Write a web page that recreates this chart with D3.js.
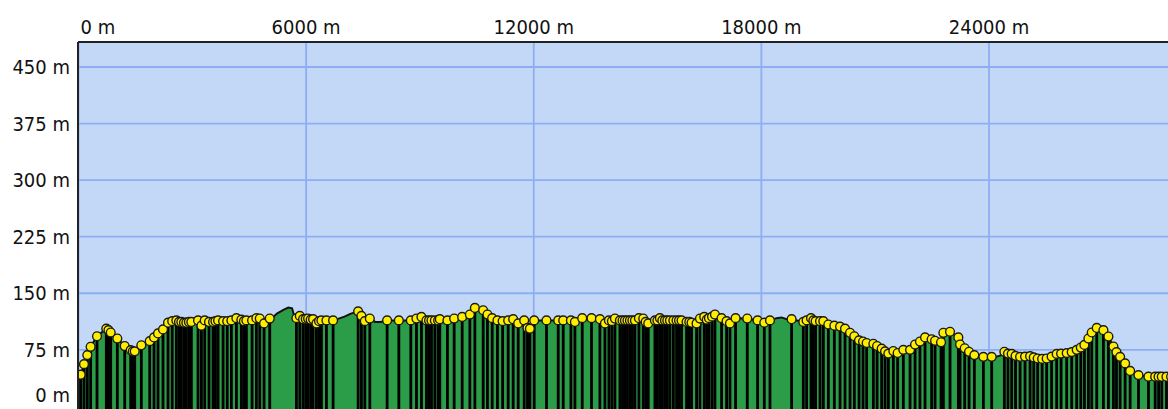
<!DOCTYPE html>
<html>
<head>
<meta charset="utf-8">
<script src="https://cdn.jsdelivr.net/npm/d3@7"></script>
<style>
  html, body { margin: 0; padding: 0; background: #fff; overflow: hidden; }
  svg { display: block; }
  text { font-family: "DejaVu Sans Condensed", "DejaVu Sans", sans-serif; font-size: 20px; fill: #111; }
</style>
</head>
<body>
<svg id="chart" width="1168" height="409"></svg>
<script>
// ---- data ----
const distance = [0,58,145,232,320,488,733,790,849,1023,1218,1376,1430,1482,1656,1877,1991,2096,2228,2360,2470,2579,2650,2711,2780,2843,2910,2975,3151,3240,3327,3440,3547,3610,3679,3811,3920,4030,4162,4293,4360,4425,4575,4689,4778,4891,5041,5100,5230,5400,5530,5630,5700,5744,5833,5920,5990,6052,6120,6184,6272,6340,6403,6535,6711,6840,7010,7180,7371,7458,7547,7679,7820,7960,8135,8444,8760,8908,9040,9172,9240,9304,9393,9480,9524,9725,9902,10113,10316,10448,10667,10780,10904,11044,11180,11326,11458,11590,11748,11835,11898,12012,12336,12645,12777,12980,13085,13278,13523,13744,13876,13981,14060,14140,14271,14340,14403,14470,14535,14600,14667,14772,14886,14950,15018,15194,15260,15326,15390,15458,15520,15590,15680,15764,15830,15896,16028,16100,16160,16292,16381,16494,16560,16618,16700,16776,16951,17083,17172,17320,17628,17900,18077,18227,18400,18530,18650,18797,19105,19193,19309,19370,19430,19546,19633,19765,19923,20074,20205,20337,20450,20574,20680,20775,20952,21050,21171,21260,21347,21479,21592,21742,21919,22051,22180,22314,22488,22578,22736,22797,22973,23192,23237,23360,23474,23614,23852,24071,24200,24330,24405,24500,24598,24700,24819,24950,25083,25180,25283,25400,25520,25650,25784,25900,26048,26180,26312,26420,26515,26620,26708,26840,27016,27148,27280,27360,27456,27588,27720,27940,28203,28380,28470,28554,28678,28800];
const elevation = [36,42,56,68,79,93,103,101,98,90,80,74.6,73,73,81,86.5,91.4,96.7,102,111,113,114,112,112,111,111,112,112,114,107,114,112,112,113,114,113,113,114,117,115,113,114,114,117,116.5,110,116.5,117,123,128,131,130,117,117,120,115.6,116,116.5,115,115.6,110,113,114,114,114,116,119,123,126,120,113,116.5,112,112,114,114,114,116.5,118.6,114,114,114,114,114,115.6,114,116.5,118.6,121.8,130.5,127.5,121.8,117,114,113,114,115.6,110,114,104,103,114,114,114,114,114,112,117,117,115.6,110,114,113,116.5,114,114,114,114,114,114,114,117,116.5,112,110,114,114,117,114,114,114,114,114,114,114,114,112,112,111,110,116.5,118.6,115,117,119,121.8,117,113,110,117,116.5,114,111,114,117,118,116,115.6,112,114,117,114,113,113,113,108.6,107,105.8,103,97.6,93,87.6,86,84,83,80,76.5,73,70,73.4,70.8,75,75,82,86,91.4,89,87,85,97.6,99,91.4,82,77,72.4,68,65.7,65.7,66,68,72.4,70,69.6,67,65.7,66,66.6,65,63.5,63,63.5,66,69.6,70,70.7,72,75,78,81.5,90,98,104,101,92.6,79.4,72,65.7,57,47,41.5,39.4,39.4,39.4,39.4,39.4,39.4];
// profile points drawn without a marker / drop line
const unmarked = [0,5100,5230,5400,5530,5630,5700,6840,7010,7180,7820,7960,18400,18530,18650,24200,24330];
const xTicks = [0, 6000, 12000, 18000, 24000];
const yTicks = [0, 75, 150, 225, 300, 375, 450];

// ---- layout ----
const W = 1168, H = 409;
const plotLeft = 78.5, plotTop = 42;
const svg = d3.select("#chart");

const x = d3.scaleLinear().domain([0, 24000]).range([plotLeft, 989]);
const y = d3.scaleLinear().domain([0, 450]).range([406.4, 67]);

const hiddenSet = new Set(unmarked);
const pts = distance.map((d, i) => ({d, e: elevation[i], m: !hiddenSet.has(d)}));

svg.append("defs").append("clipPath").attr("id", "plot")
  .append("rect").attr("x", plotLeft).attr("y", plotTop).attr("width", W - plotLeft).attr("height", H - plotTop);

svg.append("rect").attr("x", plotLeft).attr("y", plotTop).attr("width", W - plotLeft).attr("height", H - plotTop)
  .attr("fill", "#c3d8f6");

const g = svg.append("g").attr("clip-path", "url(#plot)");

// grid
g.selectAll("line.vg").data(xTicks).join("line").attr("class", "vg")
  .attr("x1", d => x(d)).attr("x2", d => x(d)).attr("y1", plotTop).attr("y2", H)
  .attr("stroke", "#8eaef4").attr("stroke-width", 1.8);
g.selectAll("line.hg").data(yTicks).join("line").attr("class", "hg")
  .attr("x1", plotLeft).attr("x2", W).attr("y1", d => y(d)).attr("y2", d => y(d))
  .attr("stroke", "#8eaef4").attr("stroke-width", 1.8);

// area
const area = d3.area().x(p => x(p.d)).y0(H + 5).y1(p => y(p.e));
g.append("path").datum(pts).attr("d", area)
  .attr("fill", "#2b9c48").attr("stroke", "#111").attr("stroke-width", 2);

const mk = pts.filter(p => p.m);
// drop lines
g.selectAll("line.drop").data(mk).join("line").attr("class", "drop")
  .attr("x1", p => x(p.d)).attr("x2", p => x(p.d))
  .attr("y1", p => y(p.e)).attr("y2", H + 2)
  .attr("stroke", "#000").attr("stroke-width", 2.8);

// markers
g.selectAll("circle.mk").data(mk).join("circle").attr("class", "mk")
  .attr("cx", p => x(p.d)).attr("cy", p => y(p.e)).attr("r", 4.4)
  .attr("fill", "#ffee00").attr("stroke", "#1a1a1a").attr("stroke-width", 1.4);

// borders
svg.append("line").attr("x1", plotLeft - 0.5).attr("x2", W).attr("y1", plotTop).attr("y2", plotTop)
  .attr("stroke", "#222").attr("stroke-width", 2);
svg.append("line").attr("x1", plotLeft - 0.5).attr("x2", plotLeft - 0.5).attr("y1", plotTop).attr("y2", H)
  .attr("stroke", "#222").attr("stroke-width", 2);

// labels
svg.selectAll("text.xl").data(xTicks).join("text").attr("class", "xl")
  .attr("x", d => d === 0 ? plotLeft + 2 : x(d))
  .attr("y", 34)
  .attr("text-anchor", d => d === 0 ? "start" : "middle")
  .text(d => d + " m");
svg.selectAll("text.yl").data(yTicks).join("text").attr("class", "yl")
  .attr("x", 70)
  .attr("y", d => Math.min(y(d), H - 14))
  .attr("dy", "0.36em")
  .attr("text-anchor", "end")
  .text(d => d + " m");
</script>
</body>
</html>
